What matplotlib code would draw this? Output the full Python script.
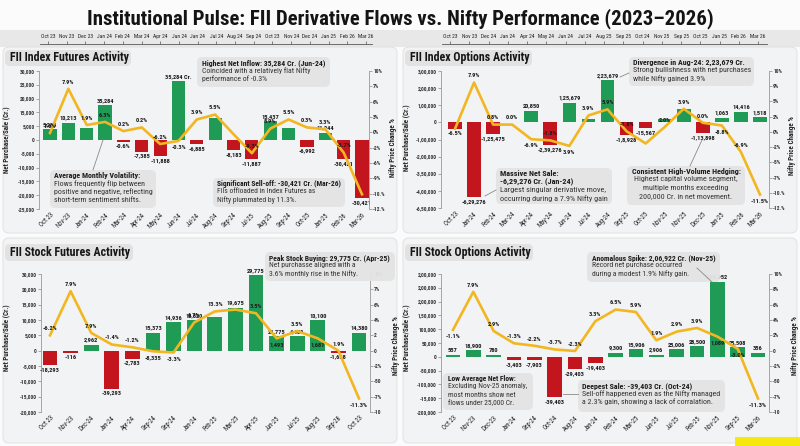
import matplotlib
matplotlib.use('Agg')
import matplotlib.pyplot as plt
import matplotlib.font_manager as fm
from matplotlib.patches import FancyBboxPatch, Rectangle
from matplotlib.lines import Line2D
import numpy as np

names = {f.name for f in fm.fontManager.ttflist}
COND = 'Roboto'
for cand in ['Roboto Condensed', 'Liberation Sans Narrow', 'Open Sans Condensed', 'DejaVu Sans Condensed',
             'Noto Sans Condensed', 'Roboto']:
    if cand in names:
        COND = cand
        break
plt.rcParams['font.family'] = [COND, 'DejaVu Sans']

W, H = 800, 446
GREEN = '#1f9b55'
RED = '#c2151d'
GOLD = '#f2b621'
TXT = '#1c1c1c'

title = 'Institutional Pulse: FII Derivative Flows vs. Nifty Performance (2023\u20132026)'

top_months_1 = ['Oct 23', 'Nov 23', 'Dec 23', 'Jan 24', 'Feb 24', 'Mar 24', 'Apr 24', 'Jun 24', 'Jan 24',
                'Jul 24', 'Aug 24', 'Sep 24', 'Oct 23', 'Nov 24', 'Dec 24', 'Jan 25', 'Feb 26', 'Mar 26']
top_months_2 = ['Oct 23', 'Nov 23', 'Dec 24', 'Jan 24', 'Apr 24', 'May 24', 'Jun 24', 'Jul 24', 'Aug 25',
                'Sep 25', 'Oct 24', 'Nov 25', 'Sep 25', 'Oct 25', 'Jan 25', 'Feb 26', 'Mar 26']

# --- FII Index Futures (bars in thousands on the drawn scale, line in % on the drawn scale)
p1_months = ['Oct 23', 'Nov-23', 'Jan-24', 'Feb-24', 'Mar-24', 'Apr-24', 'May-24', 'Jun-24', 'Jul-24',
             'Aug-24', 'Sep-24', 'Jul-25', 'Aug-25', 'Sep-24', 'Oct-25', 'Jan-25', 'Feb-26', 'Mar-26']
p1_flow = [4.0, 6.3, 4.2, 12.7, -0.7, -4.2, -5.8, 21.4, -1.4, 7.9, -3.6, -7.0, 6.9, 4.2, -2.4, 2.7, -7.0, -21.1]
p1_flow_lbl = ['5,284', '10,213', '', '35,284', '-0.6%', '-7,385', '-11,888', '35,284 Cr.', '-6,885', '',
               '-8,183', '-11,887', '15,437', '', '-6,992', '11,244', '-30,421', '-30,421']
p1_nifty = [-0.1, 7.1, 1.2, 1.7, 0.2, 0.8, -1.9, -1.4, 2.1, 2.9, -0.3, -3.4, 0.6, 2.1, 0.8, 0.5, -3.3, -10.1]
p1_nifty_lbl = ['7.6%', '7.9%', '1.9%', '6.3%', '0.2%', '0.2%', '-6.2%', '-0.3%', '3.9%', '5.5%', '',
                '-9.3%', '5.9%', '5.5%', '0.3%', '3.3%', '-5.7%', '']
p1_below = [7]

# --- FII Index Options (bars in lakh Cr. on the drawn scale)
p2_months = ['Oct 23', 'Jan-24', 'Feb-24', 'Mar-24', 'Apr-24', 'May-24', 'Jun-24', 'Jul-24', 'Aug-24',
             'Sep-25', 'Oct-25', 'Nov-25', 'Nov-25', 'Dec-25', 'Jan-25', 'Feb-26', 'Mar-26']
p2_flow = [-0.39, -4.37, -0.7, 0.0, 0.68, -1.32, 1.15, 0.19, 2.47, -0.74, -0.35, 0.19, 0.76, -0.64, 0.27, 0.62, 0.29]
p2_flow_lbl = ['-6.5%', '-6,29,276', '-1,25,475', '', '20,850', '-2,39,276', '1,25,679', '', '2,23,679',
               '-1,8,928', '-15,567', '', '', '-1,13,898', '1,063', '14,416', '1,518']
p2_nifty = [0.5, 8.1, 1.2, 1.2, -1.2, -1.4, -2.3, 2.7, 3.7, 0.1, -1.9, 0.8, 3.8, 1.5, 1.05, -3.3, -10.3]
p2_nifty_lbl = ['', '7.9%', '0.8%', '0.0%', '-6.9%', '-1.8%', '3.9%', '3.9%', '5.9%', '-1.8%', '', '2.0%',
                '3.9%', '0.0%', '-8.8%', '-6.9%', '-11.5%']
p2_below = [4, 6, 14, 16]

# --- FII Stock Futures
p3_months = ['Oct 23', 'Nov-23', 'Dec-24', 'Jan-24', 'Apr-24', 'Sep-24', 'Sep-24', 'Jan-24', 'Feb-25',
             'Mar-25', 'Apr-25', 'Jun-25', 'Jul-25', 'Aug-25', 'Sep-28', 'Oct 23']
p3_flow = [-4.8, -0.65, 2.0, -12.4, -2.6, 5.8, 9.2, 9.9, 11.0, 14.0, 24.7, 4.8, 4.8, 9.9, -0.65, 5.8]
p3_flow_lbl = ['-18,293', '-116', '2,962', '-39,293', '-2,783', '15,373', '14,936', '18,820', '', '19,675',
               '29,775', '29,775', '4,489', '10,100', '-1,638', '14,380']
p3_nifty = [2.5, 9.7, 2.9, 1.0, 0.55, -0.1, -0.3, 4.6, 6.4, 6.7, 6.1, 2.0, 3.2, 2.0, 0.0, -7.8]
p3_nifty_lbl = ['-6.2%', '7.9%', '7.9%', '-1.4%', '-1.2%', '-8,335', '-3.3%', '6.7%', '13.3%', '', '3.5%',
                '1,493', '3.5%', '1,681', '1.9%', '-11.3%']
p3_below = [5, 6, 11, 13, 15]

# --- FII Stock Options (bars in thousand Cr. on the drawn scale)
p4_months = ['Oct 23', 'Nov-23', 'Dec-23', 'Jan-24', 'Sep-24', 'Oct-24', 'Aug-24', 'Jan-24', 'Feb-24',
             'Mar-25', 'Jun-25', 'Jul-25', 'Feb-25', 'Nov-25', 'Sep-25', 'Mar-26']
p4_flow = [5, 24, 6, -13, -13, -146, -44, -22, 15, 27, 7, 27, 38, 272, 34, 13]
p4_flow_lbl = ['557', '18,900', '780', '-3,403', '-7,903', '-39,403', '-29,403', '-19,403', '9,300', '15,906',
               '2,906', '25,006', '28,500', '2,06,952', '25,508', '356']
p4_nifty = [3.4, 9.6, 3.2, 1.2, 0.8, 0.2, -0.05, 4.8, 6.7, 6.3, 1.7, 3.1, 3.7, 2.3, 0.3, -7.8]
p4_nifty_lbl = ['-1.1%', '7.9%', '2.9%', '-1.3%', '-2.2%', '-3.7%', '-2.3%', '3.3%', '6.5%', '5.9%', '1.9%',
                '2.9%', '3.9%', '1,089', '-3.0%', '-11.3%']
p4_below = [0, 13, 14, 15]

fig = plt.figure(figsize=(8, 4.46), dpi=100, facecolor='#fbfbfb')
renderer = fig.canvas.get_renderer()


def fs_for(s, target, weight='normal'):
    t = fig.text(0, 0, s, fontsize=10, fontweight=weight)
    w = t.get_window_extent(renderer).width
    t.remove()
    return 10 * target / w


FS_TICK = fs_for('30,000', 15, 'bold')
FS_VAL = fs_for('5,284', 14.5, 'bold')
FS_CAT = fs_for('Oct 23', 17)
FS_STRIP = fs_for('Nov 23', 15.5)
FS_YLAB = fs_for('Net Purchase/Sale (Cr.)', 66, 'bold')
FS_HEAD = fs_for('FII Index Futures Activity', 119, 'bold')


def P(x, y):
    return x / 100, (H - y) / 100


def rbox(x0, y0, x1, y1, fc, ec='none', lw=0.6, r=0.04, z=0.5, alpha=1.0):
    b = FancyBboxPatch(P(x0, y1), (x1 - x0) / 100, (y1 - y0) / 100,
                       boxstyle='round,pad=0,rounding_size=%f' % r, fc=fc, ec=ec, lw=lw,
                       alpha=alpha, transform=fig.dpi_scale_trans, zorder=z)
    fig.add_artist(b)


def ftext(x, y, s, **kw):
    return fig.text(*P(x, y), s, transform=fig.dpi_scale_trans, **kw)


def leader(x0, y0, x1, y1):
    fig.add_artist(Line2D([x0 / 100, x1 / 100], [(H - y0) / 100, (H - y1) / 100],
                          transform=fig.dpi_scale_trans, color='#8a8a8a', lw=0.6, zorder=2.6))


def note(x0, y0, x1, y1, bold, body, tx, ty, ha='left'):
    rbox(x0, y0, x1, y1, '#e4e4e4', r=0.05, z=2.5, alpha=0.96)
    pad = (tx - x0) if ha == 'left' else 4
    target = (x1 - x0) - 2 * pad
    widest = max([fs_for(s, 100, 'bold') for s in bold] + [fs_for(s, 100) for s in body])
    widest = min([fs_for(s, target, 'bold') for s in bold] + [fs_for(s, target) for s in body])
    fs = min(widest, 6.2)
    y = ty
    for s in bold:
        ftext(tx, y, s, ha=ha, va='top', fontsize=fs, fontweight='bold', color=TXT, zorder=3)
        y += 8.3
    for s in body:
        ftext(tx, y, s, ha=ha, va='top', fontsize=fs, color='#333333', zorder=3)
        y += 8.3


def strip(x0, x1, c0, c1, labels):
    n = len(labels)
    s = (c1 - c0) / (n - 1)
    ax = fig.add_axes([x0 / W, 1 - 44 / H, (x1 - x0) / W, 0.0005])
    ax.patch.set_visible(False)
    ax.set_xlim(-(c0 - x0) / s, (n - 1) + (x1 - c1) / s)
    ax.set_yticks([])
    for k in ['bottom', 'left', 'right']:
        ax.spines[k].set_visible(False)
    ax.spines['top'].set_color('#555555')
    ax.spines['top'].set_linewidth(0.6)
    ax.xaxis.tick_top()
    ax.set_xticks(range(n))
    ax.set_xticklabels(labels, fontsize=FS_STRIP, color='#222222')
    ax.tick_params(axis='x', length=2.5, width=0.5, pad=1, color='#555555')


def panel(frame, head, axbox, c0, c1, months, flows, flow_lbl, nifty, nifty_lbl, below,
          ylim, yt, ytl, rt, rtl, ylab_x, rlab_x, lab_y):
    fx0, fy0, fx1, fy1 = frame
    rbox(fx0, fy0, fx1, fy1, '#f2f3f4', ec='#dedede', r=0.06, z=-1)
    hx0, hy0, hx1, hy1 = head[0]
    rbox(hx0, hy0, hx1, hy1, '#e2e2e2', r=0.05, z=0.2)
    ftext(hx0 + 5, (hy0 + hy1) / 2, head[1], ha='left', va='center', fontsize=FS_HEAD,
          fontweight='bold', color='#161616')

    x0, y0, x1, y1 = axbox
    ax = fig.add_axes([x0 / W, 1 - y1 / H, (x1 - x0) / W, (y1 - y0) / H])
    ax.patch.set_visible(False)
    n = len(months)
    xs = np.arange(n)
    s = (c1 - c0) / (n - 1)
    cols = [GREEN if v >= 0 else RED for v in flows]
    ax.bar(xs, flows, width=0.72, color=cols, zorder=2)
    ax.set_xlim(-(c0 - x0) / s, (n - 1) + (x1 - c1) / s)
    ax.set_ylim(*ylim)
    ax.set_yticks(yt)
    ax.set_yticklabels(ytl, fontsize=FS_TICK, fontweight='bold', color='#333333')
    ax.set_xticks(xs)
    ax.set_xticklabels(months, rotation=45, ha='right', rotation_mode='anchor', fontsize=FS_CAT,
                       color='#222222')
    ax.tick_params(axis='x', length=0, pad=2)
    ax.tick_params(axis='y', length=2, width=0.5, pad=1, color='#888888')
    for k in ['top', 'bottom', 'right']:
        ax.spines[k].set_visible(False)
    ax.spines['left'].set_color('#999999')
    ax.spines['left'].set_linewidth(0.6)
    ax.set_ylabel('Net Purchase/Sale (Cr.)', fontsize=FS_YLAB, fontweight='bold', color='#222222')
    ax.yaxis.set_label_coords((ylab_x - x0) / (x1 - x0), 1 - (lab_y - y0) / (y1 - y0))

    for i, (v, t) in enumerate(zip(flows, flow_lbl)):
        if t:
            ax.annotate(t, (i, v), xytext=(0, 1.5 if v >= 0 else -1.5), textcoords='offset points',
                        ha='center', va='bottom' if v >= 0 else 'top', fontsize=FS_VAL,
                        fontweight='bold', color=TXT, zorder=5)

    ax2 = ax.twinx()
    ax2.patch.set_visible(False)
    ax2.plot(xs, nifty, color=GOLD, lw=1.9, solid_joinstyle='round', zorder=3)
    ax2.set_ylim(rt[-1], rt[0])
    ax2.set_yticks(rt)
    ax2.set_yticklabels(rtl, fontsize=FS_TICK, fontweight='bold', color='#333333')
    ax2.tick_params(axis='y', length=2, width=0.5, pad=1, color='#888888')
    for k in ['top', 'bottom', 'left']:
        ax2.spines[k].set_visible(False)
    ax2.spines['right'].set_color('#999999')
    ax2.spines['right'].set_linewidth(0.6)
    ax2.set_ylabel('Nifty Price Change %', fontsize=FS_YLAB, fontweight='bold', color='#222222')
    ax2.yaxis.set_label_coords((rlab_x - x0) / (x1 - x0), 1 - (lab_y + 8 - y0) / (y1 - y0))
    for i, (v, t) in enumerate(zip(nifty, nifty_lbl)):
        if t:
            dn = i in below
            ax2.annotate(t, (i, v), xytext=(0, -3 if dn else 3), textcoords='offset points',
                         ha='center', va='top' if dn else 'bottom', fontsize=FS_VAL,
                         fontweight='bold', color=TXT, zorder=5)
    return ax, ax2


# title and top strip
ttl = ftext(400, 19, title, ha='center', va='center', fontsize=10, fontweight='bold', color='#141414')
ttl.set_fontsize(fs_for(title, 627, 'bold'))
fig.add_artist(Rectangle((0, 1 - 47 / H), 1, 17 / H, transform=fig.transFigure,
                         fc='#e8e8e8', ec='none', zorder=-2))

strip(40, 372, 48, 366, top_months_1)
strip(442, 767, 450, 758, top_months_2)

pct_hi = [10, 7.5, 5, 2.5, 0, -2.5, -5, -7.5, -10, -12.5]
pct_lo = [12.5, 10, 7.5, 5, 2.5, 0, -2.5, -5, -7.5, -10]

panel((3, 47, 397, 233), ((5, 50, 131, 66), 'FII Index Futures Activity'), (39, 71, 369, 209), 50, 362,
      p1_months, p1_flow, p1_flow_lbl, p1_nifty, p1_nifty_lbl, p1_below,
      (-25, 25), list(range(25, -30, -5)),
      ['30,000', '25,000', '20,000', '15,000', '5,000', '0', '-5,000', '-10,000', '-15,000', '-20,000', '-25,000'],
      pct_hi, ['10%', '7%', '6%', '3%', '0%', '-2%', '-6%', '-9%', '-10.%', '-12.%'], 10, 389, 140)

panel((403, 47, 797, 233), ((405, 50, 532, 66), 'FII Index Options Activity'), (441, 71, 769, 208), 455, 760,
      p2_months, p2_flow, p2_flow_lbl, p2_nifty, p2_nifty_lbl, p2_below,
      (-5, 3), [3, 2, 1, 0, -1, -2, -3, -4, -5],
      ['3,00,000', '2,00,000', '1,00,000', '0', '-1,00,000', '-2,00,000', '-3,50,000', '-4,00,000', '-6,50,000'],
      pct_hi, ['10%', '9%', '5%', '2%', '0%', '-2%', '-5%', '-7%', '-10.%', '-12.%'], 410, 788, 138)

panel((3, 238, 397, 443), ((5, 244, 133, 261), 'FII Stock Futures Activity'), (41, 274, 370, 412), 50, 359,
      p3_months, p3_flow, p3_flow_lbl, p3_nifty, p3_nifty_lbl, p3_below,
      (-20, 25), list(range(25, -25, -5)),
      ['30,000', '20,000', '15,000', '10,000', '5,000', '0', '-5,000', '-10,000', '-15,000', '-20,000'],
      pct_lo, ['10%', '7%', '6%', '4%', '2', '0', '-2%', '-50', '-7%', '-10'], 10, 392, 338)

panel((403, 238, 797, 443), ((405, 244, 533, 261), 'FII Stock Options Activity'), (441, 274, 769, 412), 453, 758,
      p4_months, p4_flow, p4_flow_lbl, p4_nifty, p4_nifty_lbl, p4_below,
      (-200, 300), list(range(300, -250, -50)),
      ['2,00,000', '2,00,000', '2,00,000', '1,50,000', '100,000', '50,000', '0', '-50,000', '-100,000',
       '-15,000', '-200,000'],
      pct_lo, ['10%', '8%', '6%', '4%', '2%', '0', '-2%', '-50', '-7%', '-10'], 410, 791, 338)

# callouts
note(197, 57, 330, 87, ['Highest Net Inflow: 35,284 Cr. (Jun-24)'],
     ['Coincided with a relatively flat Nifty', 'performance of -0.3%'], 202, 59)
note(50, 170, 156, 208, ['Average Monthly Volatility:'],
     ['Flows frequently flip between', 'positive and negative, reflecting', 'short-term sentiment shifts.'], 54, 172)
leader(93, 170, 103, 140)
note(213, 178, 345, 207, ['Significant Sell-off: -30,421 Cr. (Mar-26)'],
     ['FIIs offloaded in Index Futures as', 'Nifty plummated by 11.3%.'], 217, 180)

note(496, 168, 612, 204, ['Massive Net Sale:', '-6,29,276 Cr. (Jan-24)'],
     ['Largest singular derivative move,', 'occurring during a 7.9% Nifty gain'], 500, 170)
leader(485, 196, 496, 190)
note(629, 57, 754, 86, ['Divergence in Aug-24: 2,23,679 Cr.'],
     ['Strong bullishness with net purchases', 'while Nifty gained 3.9%'], 633, 59)
leader(620, 77, 629, 73)
note(627, 166, 745, 205, ['Consistent High-Volume Hedging:'],
     ['Highest capital volume segment,', 'multiple months exceeding', '200,000 Cr. in net movement.'],
     686, 168, ha='center')
leader(690, 166, 702, 140)

note(265, 252, 395, 281, ['Peak Stock Buying: 29,775 Cr. (Apr-25)'],
     ['Net purchasse aligned with a', '3.6% monthly rise in the Nifty.'], 269, 254)

note(587, 252, 720, 282, ['Anomalous Spike: 2,06,922 Cr. (Nov-25)'],
     ['Record net purchase occurred', 'during a modest 1.9% Nifty gain.'], 592, 254)
leader(697, 268, 712, 282)
note(443, 373, 533, 410, ['Low Average Net Flow:'],
     ['Excluding Nov-25 anomaly,', 'most months show net', 'flows under 25,000 Cr.'], 448, 375)
note(578, 380, 725, 412, ['Deepest Sale: -39,403 Cr. (Oct-24)'],
     ['Sell-off happened even as the Nifty managed', 'a 2.3% gain, showing a lack of corralation.'], 582, 382)
leader(563, 394, 578, 394)

fig.add_artist(Rectangle(P(735, 446), 65 / 100, 9 / 100, transform=fig.dpi_scale_trans,
                         fc='#f6e80c', ec='none', zorder=4))

fig.savefig('out.png', dpi=100, facecolor=fig.get_facecolor())
